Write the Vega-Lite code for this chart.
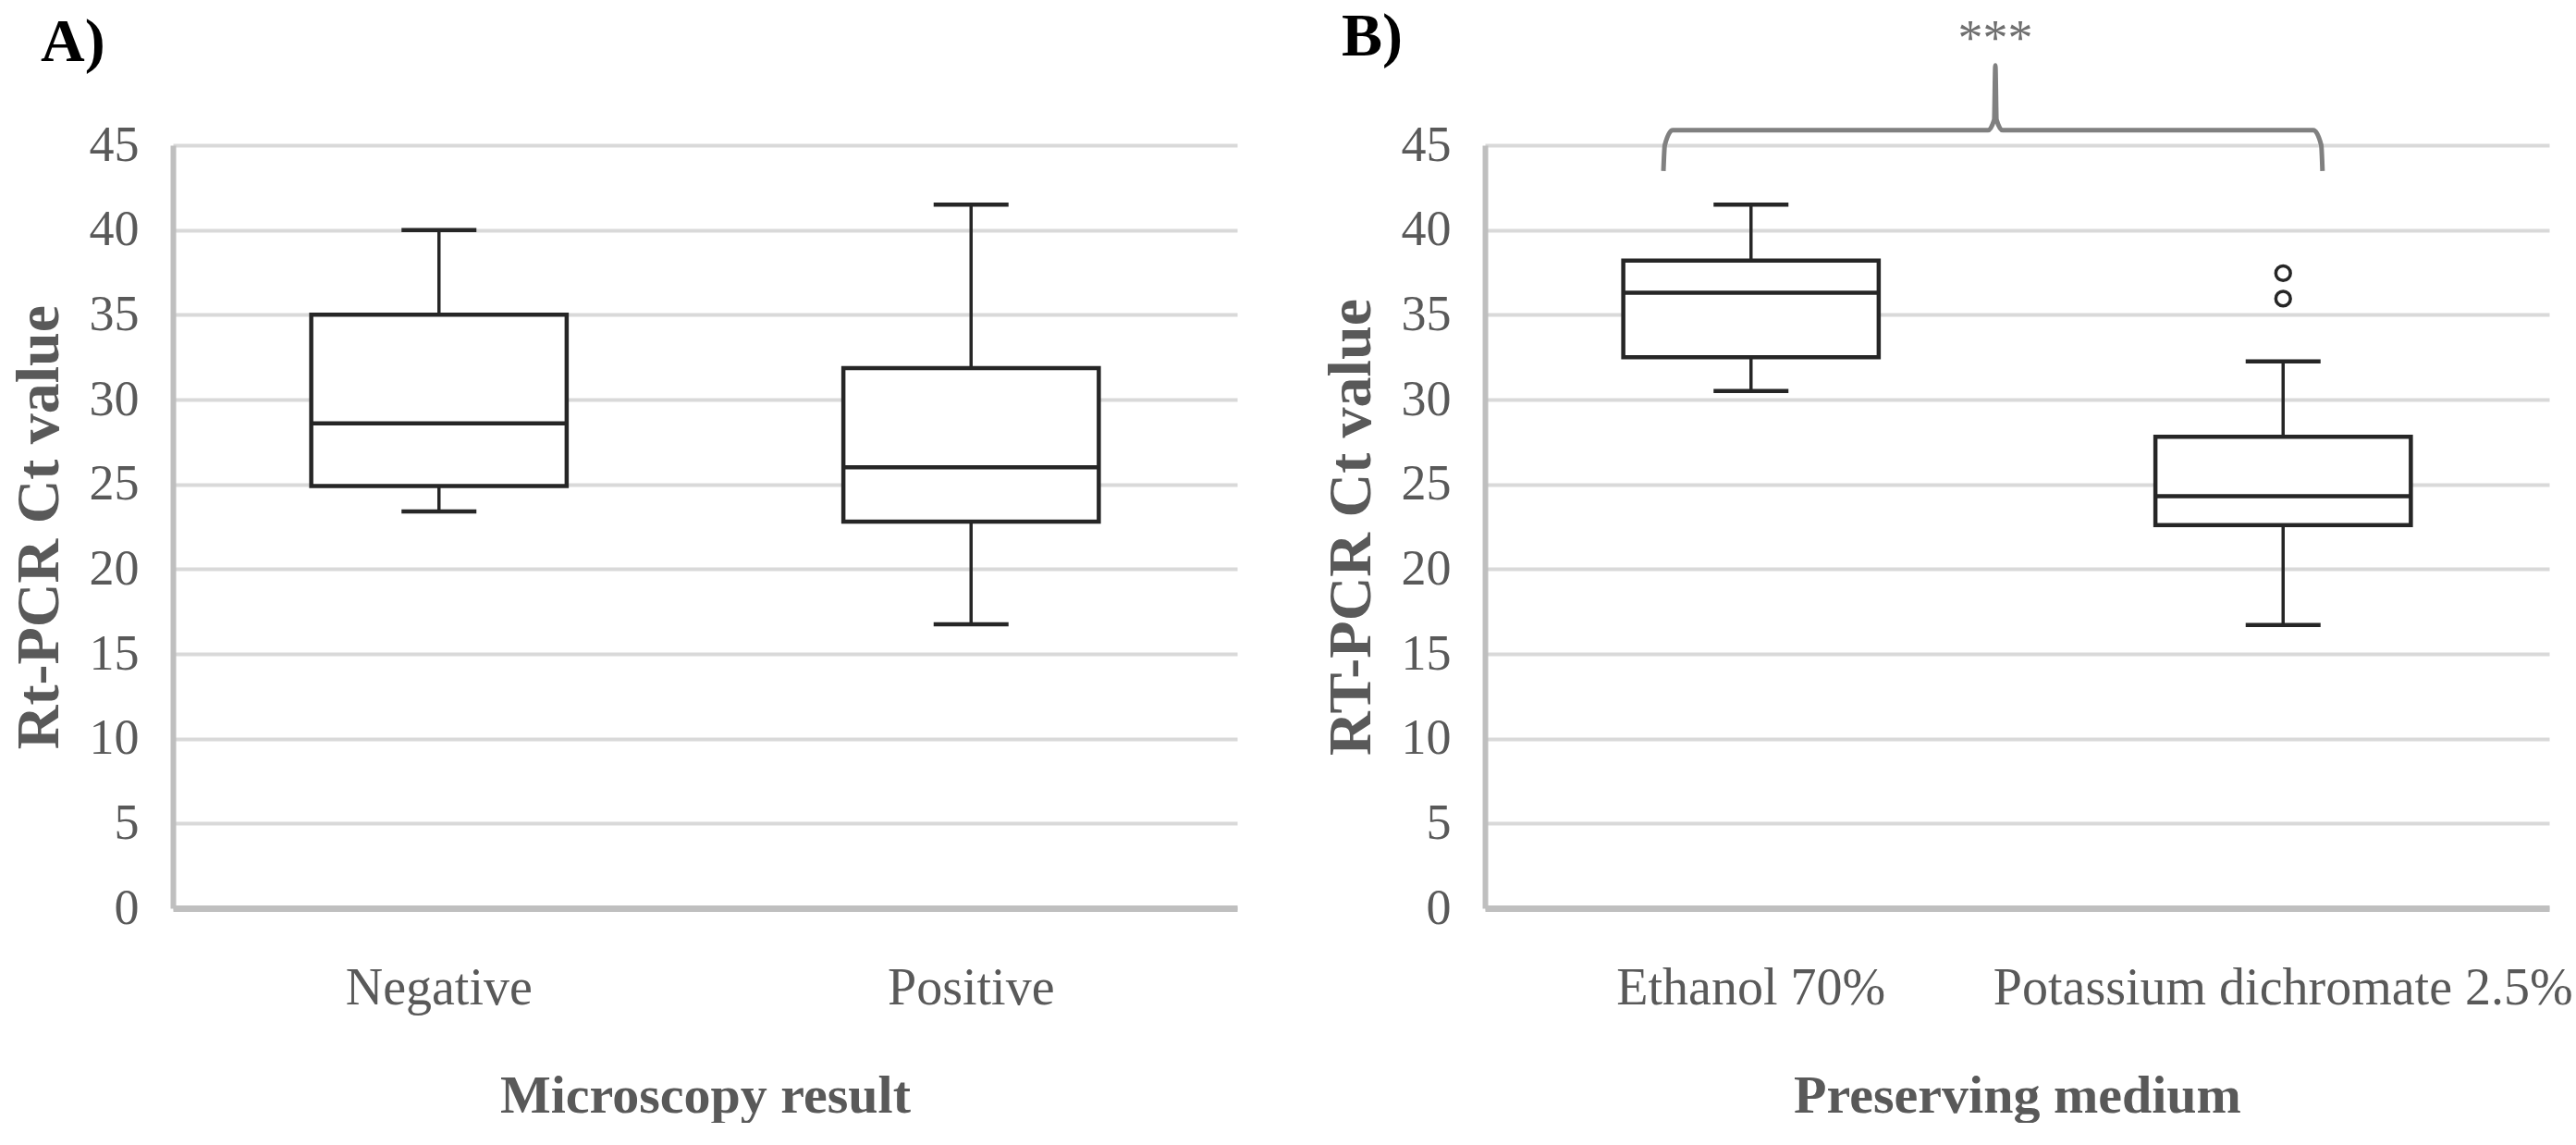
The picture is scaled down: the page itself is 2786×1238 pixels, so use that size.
{
  "$schema": "https://vega.github.io/schema/vega-lite/v6.json",
  "autosize": {"type": "pad"},
  "padding": {"left": 9, "top": 7, "right": 0, "bottom": 0},
  "background": "white",
  "bounds": "flush",
  "spacing": 268,
  "datasets": {
    "boxA": [
      {"cat": "Negative", "low": 23.4, "q1": 24.9, "median": 28.6, "q3": 35.0, "high": 40.0},
      {"cat": "Positive", "low": 16.75, "q1": 22.8, "median": 26.0, "q3": 31.85, "high": 41.5}
    ],
    "boxB": [
      {"cat": "Ethanol 70%", "low": 30.5, "q1": 32.5, "median": 36.3, "q3": 38.2, "high": 41.5},
      {"cat": "Potassium dichromate 2.5%", "low": 16.7, "q1": 22.6, "median": 24.3, "q3": 27.8, "high": 32.25}
    ],
    "outB": [
      {"cat": "Potassium dichromate 2.5%", "v": 37.45},
      {"cat": "Potassium dichromate 2.5%", "v": 35.95}
    ],
    "brace": [
      {"o": 1, "x": 0.1677, "y": 43.48},
      {"o": 2, "x": 0.1690, "y": 45.0},
      {"o": 3, "x": 0.1764, "y": 45.88},
      {"o": 4, "x": 0.4726, "y": 45.88},
      {"o": 5, "x": 0.4785, "y": 46.5},
      {"o": 6, "x": 0.4796, "y": 49.7},
      {"o": 7, "x": 0.4807, "y": 46.5},
      {"o": 8, "x": 0.4865, "y": 45.88},
      {"o": 9, "x": 0.7785, "y": 45.88},
      {"o": 10, "x": 0.7858, "y": 45.0},
      {"o": 11, "x": 0.787, "y": 43.48}
    ],
    "stars": [{"x": 0.4796, "y": 51.2, "t": "***"}]
  },
  "config": {
    "font": "Liberation Serif",
    "view": {"stroke": null},
    "axis": {
      "labelFont": "Liberation Serif",
      "labelColor": "#595959",
      "labelFontSize": 56,
      "titleFont": "Liberation Serif",
      "titleColor": "#595959",
      "titleFontWeight": "bold",
      "titleFontSize": 58,
      "domainColor": "#bfbfbf",
      "ticks": false,
      "tickSize": 0,
      "labelLimit": 1000,
      "titleLimit": 2000
    },
    "axisY": {"domainWidth": 6, "grid": true, "gridColor": "#d9d9d9", "gridWidth": 4, "labelPadding": 37, "labelFontSize": 54, "titlePadding": 20, "titleFontSize": 66},
    "axisX": {"domainWidth": 7, "grid": false, "labelPadding": 59, "titlePadding": 60, "labelAngle": 0},
    "title": {"font": "Liberation Serif", "fontSize": 66, "fontWeight": "bold", "color": "black", "anchor": "start", "frame": "group", "baseline": "alphabetic", "offset": 60},
    "tick": {"opacity": 1},
    "point": {"opacity": 1}
  },
  "hconcat": [
    {
      "width": 1151,
      "height": 825,
      "title": {"text": "A)", "dx": -143, "dy": 10},
      "data": {"name": "boxA"},
      "encoding": {
        "x": {"field": "cat", "type": "nominal", "sort": null, "title": "Microscopy result",
              "scale": {"domain": ["Negative", "Positive"], "paddingInner": 0, "paddingOuter": 0}}
      },
      "layer": [
        {"mark": {"type": "rule", "color": "#262626", "strokeWidth": 3.5},
         "encoding": {"y": {"field": "low", "type": "quantitative", "title": "Rt-PCR Ct value", "scale": {"domain": [0, 45], "nice": false}, "axis": {"values": [0, 5, 10, 15, 20, 25, 30, 35, 40, 45]}},
                      "y2": {"field": "high"}}},
        {"mark": {"type": "tick", "color": "#262626", "thickness": 4.5, "size": 81, "opacity": 1},
         "encoding": {"y": {"field": "low", "type": "quantitative", "title": "Rt-PCR Ct value", "scale": {"domain": [0, 45], "nice": false}, "axis": {"values": [0, 5, 10, 15, 20, 25, 30, 35, 40, 45]}}}},
        {"mark": {"type": "tick", "color": "#262626", "thickness": 4.5, "size": 81, "opacity": 1},
         "encoding": {"y": {"field": "high", "type": "quantitative", "title": "Rt-PCR Ct value", "scale": {"domain": [0, 45], "nice": false}, "axis": {"values": [0, 5, 10, 15, 20, 25, 30, 35, 40, 45]}}}},
        {"mark": {"type": "bar", "fill": "white", "stroke": "#262626", "strokeWidth": 4.5, "width": {"band": 0.48}},
         "encoding": {"y": {"field": "q1", "type": "quantitative", "title": "Rt-PCR Ct value", "scale": {"domain": [0, 45], "nice": false}, "axis": {"values": [0, 5, 10, 15, 20, 25, 30, 35, 40, 45]}},
                      "y2": {"field": "q3"}}},
        {"mark": {"type": "tick", "color": "#262626", "thickness": 4.5, "size": 277, "opacity": 1},
         "encoding": {"y": {"field": "median", "type": "quantitative", "title": "Rt-PCR Ct value", "scale": {"domain": [0, 45], "nice": false}, "axis": {"values": [0, 5, 10, 15, 20, 25, 30, 35, 40, 45]}}}}
      ]
    },
    {
      "width": 1151,
      "height": 825,
      "title": {"text": "B)", "dx": -155, "dy": 118},
      "resolve": {"scale": {"x": "independent"}, "axis": {"x": "independent"}},
      "layer": [
        {
          "data": {"name": "boxB"},
          "encoding": {
            "x": {"field": "cat", "type": "nominal", "sort": null, "title": "Preserving medium",
                  "scale": {"domain": ["Ethanol 70%", "Potassium dichromate 2.5%"], "paddingInner": 0, "paddingOuter": 0}}
          },
          "layer": [
            {"mark": {"type": "rule", "color": "#262626", "strokeWidth": 3.5},
             "encoding": {"y": {"field": "low", "type": "quantitative", "title": "RT-PCR Ct value", "scale": {"domain": [0, 45], "nice": false}, "axis": {"values": [0, 5, 10, 15, 20, 25, 30, 35, 40, 45]}},
                          "y2": {"field": "high"}}},
            {"mark": {"type": "tick", "color": "#262626", "thickness": 4.5, "size": 81, "opacity": 1},
             "encoding": {"y": {"field": "low", "type": "quantitative", "title": "RT-PCR Ct value", "scale": {"domain": [0, 45], "nice": false}, "axis": {"values": [0, 5, 10, 15, 20, 25, 30, 35, 40, 45]}}}},
            {"mark": {"type": "tick", "color": "#262626", "thickness": 4.5, "size": 81, "opacity": 1},
             "encoding": {"y": {"field": "high", "type": "quantitative", "title": "RT-PCR Ct value", "scale": {"domain": [0, 45], "nice": false}, "axis": {"values": [0, 5, 10, 15, 20, 25, 30, 35, 40, 45]}}}},
            {"mark": {"type": "bar", "fill": "white", "stroke": "#262626", "strokeWidth": 4.5, "width": {"band": 0.48}},
             "encoding": {"y": {"field": "q1", "type": "quantitative", "title": "RT-PCR Ct value", "scale": {"domain": [0, 45], "nice": false}, "axis": {"values": [0, 5, 10, 15, 20, 25, 30, 35, 40, 45]}},
                          "y2": {"field": "q3"}}},
            {"mark": {"type": "tick", "color": "#262626", "thickness": 4.5, "size": 277, "opacity": 1},
             "encoding": {"y": {"field": "median", "type": "quantitative", "title": "RT-PCR Ct value", "scale": {"domain": [0, 45], "nice": false}, "axis": {"values": [0, 5, 10, 15, 20, 25, 30, 35, 40, 45]}}}},
            {"data": {"name": "outB"},
             "mark": {"type": "point", "shape": "circle", "filled": false, "stroke": "#262626", "strokeWidth": 3.5, "size": 250, "opacity": 1},
             "encoding": {"y": {"field": "v", "type": "quantitative", "title": "RT-PCR Ct value", "scale": {"domain": [0, 45], "nice": false}, "axis": {"values": [0, 5, 10, 15, 20, 25, 30, 35, 40, 45]}}}}
          ]
        },
        {
          "data": {"name": "brace"},
          "mark": {"type": "line", "color": "#808080", "strokeWidth": 5, "interpolate": "monotone", "clip": false},
          "encoding": {
            "x": {"field": "x", "type": "quantitative", "scale": {"domain": [0, 1], "nice": false, "zero": false}, "axis": null},
            "y": {"field": "y", "type": "quantitative", "title": "RT-PCR Ct value", "scale": {"domain": [0, 45], "nice": false}, "axis": {"values": [0, 5, 10, 15, 20, 25, 30, 35, 40, 45]}},
            "order": {"field": "o", "type": "quantitative"}
          }
        },
        {
          "data": {"name": "stars"},
          "mark": {"type": "text", "color": "#6f6f6f", "fontSize": 54, "font": "Liberation Serif", "baseline": "middle", "align": "center"},
          "encoding": {
            "x": {"field": "x", "type": "quantitative", "scale": {"domain": [0, 1], "nice": false, "zero": false}, "axis": null},
            "y": {"field": "y", "type": "quantitative", "title": "RT-PCR Ct value", "scale": {"domain": [0, 45], "nice": false}, "axis": {"values": [0, 5, 10, 15, 20, 25, 30, 35, 40, 45]}},
            "text": {"field": "t"}
          }
        }
      ]
    }
  ]
}
